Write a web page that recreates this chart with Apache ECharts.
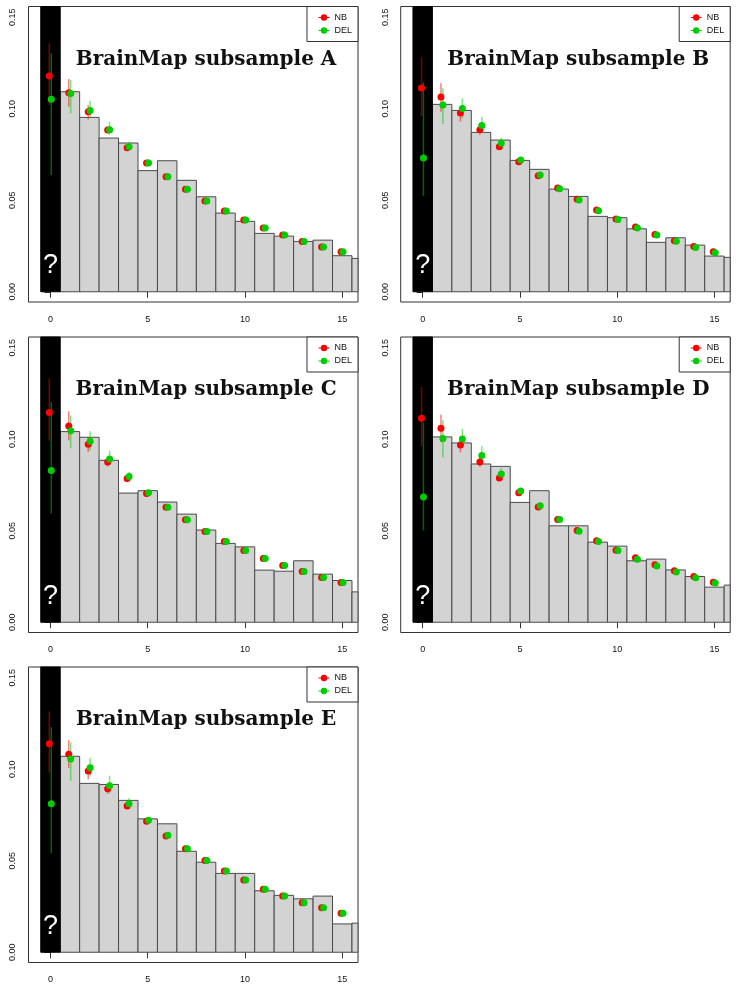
<!DOCTYPE html>
<html><head><meta charset="utf-8">
<script src="https://cdn.jsdelivr.net/npm/echarts@6/dist/echarts.min.js"></script>
<style>html,body{margin:0;padding:0;background:#fff}#c{width:736px;height:990px}</style>
</head><body><div id="c"></div>
<script>
// ---------- data ----------
const panelNames = ['A', 'B', 'C', 'D', 'E'];
const counts = [0, 1, 2, 3, 4, 5, 6, 7, 8, 9, 10, 11, 12, 13, 14, 15];
const binX = [1, 2, 3, 4, 5, 6, 7, 8, 9, 10, 11, 12, 13, 14, 15, 16];
const unknownBin = [0];
const xTicks = [0, 5, 10, 15];
const yTicks = [0, 0.05, 0.10, 0.15];

const barsA = [0.1093,0.0953,0.0840,0.0813,0.0662,0.0716,0.0609,0.0519,0.0430,0.0385,0.0319,0.0304,0.0275,0.0282,0.0197,0.0182];
const nbA   = [0.1179,0.1088,0.0984,0.0884,0.0787,0.0703,0.0629,0.0560,0.0496,0.0441,0.0392,0.0348,0.0310,0.0275,0.0244,0.0219];
const nbLoA = [0.1021,0.1011,0.0942,0.0866,0.0775,0.0693,0.0620,0.0553,0.0490,0.0436,0.0388,0.0345,0.0307,0.0272,0.0242,0.0217];
const nbHiA = [0.1358,0.1163,0.1020,0.0902,0.0800,0.0713,0.0638,0.0567,0.0502,0.0446,0.0396,0.0351,0.0313,0.0278,0.0246,0.0221];
const delA   = [0.1052,0.1084,0.0990,0.0886,0.0793,0.0703,0.0629,0.0560,0.0496,0.0441,0.0392,0.0348,0.0310,0.0275,0.0244,0.0219];
const delLoA = [0.0638,0.0975,0.0957,0.0857,0.0775,0.0687,0.0618,0.0552,0.0490,0.0436,0.0388,0.0345,0.0307,0.0272,0.0242,0.0217];
const delHiA = [0.1303,0.1157,0.1044,0.0930,0.0820,0.0724,0.0640,0.0568,0.0502,0.0446,0.0396,0.0351,0.0313,0.0278,0.0246,0.0221];

const barsB = [0.1024,0.0991,0.0871,0.0829,0.0718,0.0669,0.0561,0.0521,0.0412,0.0405,0.0344,0.0270,0.0295,0.0255,0.0195,0.0188];
const nbB   = [0.1114,0.1064,0.0977,0.0886,0.0793,0.0711,0.0634,0.0567,0.0505,0.0447,0.0397,0.0354,0.0313,0.0279,0.0248,0.0219];
const nbLoB = [0.0960,0.0984,0.0929,0.0858,0.0778,0.0700,0.0625,0.0560,0.0499,0.0442,0.0393,0.0351,0.0310,0.0276,0.0246,0.0217];
const nbHiB = [0.1281,0.1139,0.1002,0.0910,0.0808,0.0722,0.0643,0.0574,0.0511,0.0452,0.0401,0.0357,0.0316,0.0282,0.0250,0.0221];
const delB   = [0.0731,0.1021,0.1001,0.0909,0.0811,0.0720,0.0638,0.0563,0.0501,0.0443,0.0395,0.0348,0.0310,0.0276,0.0242,0.0213];
const delLoB = [0.0525,0.0917,0.0948,0.0875,0.0787,0.0705,0.0627,0.0555,0.0495,0.0438,0.0391,0.0345,0.0307,0.0273,0.0240,0.0211];
const delHiB = [0.1145,0.1112,0.1057,0.0957,0.0842,0.0737,0.0650,0.0572,0.0508,0.0448,0.0399,0.0351,0.0313,0.0279,0.0244,0.0215];

const barsC = [0.1042,0.1011,0.0885,0.0706,0.0719,0.0657,0.0591,0.0504,0.0431,0.0412,0.0285,0.0279,0.0336,0.0263,0.0228,0.0166];
const nbC   = [0.1146,0.1073,0.0973,0.0876,0.0786,0.0703,0.0628,0.0560,0.0496,0.0442,0.0392,0.0349,0.0310,0.0277,0.0245,0.0217];
const nbLoC = [0.0993,0.0993,0.0931,0.0850,0.0772,0.0693,0.0620,0.0553,0.0490,0.0437,0.0388,0.0346,0.0307,0.0274,0.0243,0.0215];
const nbHiC = [0.1332,0.1153,0.1013,0.0900,0.0800,0.0713,0.0636,0.0567,0.0502,0.0447,0.0396,0.0352,0.0313,0.0280,0.0247,0.0219];
const delC   = [0.0830,0.1046,0.0989,0.0892,0.0796,0.0708,0.0628,0.0560,0.0496,0.0442,0.0392,0.0349,0.0310,0.0277,0.0245,0.0217];
const delLoC = [0.0595,0.0951,0.0940,0.0860,0.0778,0.0695,0.0618,0.0553,0.0490,0.0437,0.0388,0.0346,0.0307,0.0274,0.0243,0.0215];
const delHiC = [0.1204,0.1130,0.1044,0.0938,0.0820,0.0722,0.0638,0.0567,0.0502,0.0447,0.0396,0.0352,0.0313,0.0280,0.0247,0.0219];

const barsD = [0.1013,0.0980,0.0865,0.0852,0.0655,0.0719,0.0527,0.0527,0.0438,0.0416,0.0336,0.0345,0.0286,0.0250,0.0192,0.0203];
const nbD   = [0.1115,0.1060,0.0969,0.0876,0.0788,0.0708,0.0630,0.0562,0.0502,0.0445,0.0394,0.0352,0.0314,0.0281,0.0250,0.0219];
const nbLoD = [0.0962,0.0984,0.0929,0.0850,0.0773,0.0697,0.0622,0.0555,0.0496,0.0440,0.0390,0.0349,0.0311,0.0278,0.0248,0.0217];
const nbHiD = [0.1286,0.1135,0.0998,0.0900,0.0802,0.0718,0.0638,0.0569,0.0508,0.0450,0.0398,0.0355,0.0317,0.0284,0.0252,0.0221];
const delD   = [0.0684,0.1004,0.1002,0.0911,0.0810,0.0717,0.0637,0.0562,0.0498,0.0442,0.0392,0.0345,0.0307,0.0274,0.0243,0.0215];
const delLoD = [0.0502,0.0901,0.0953,0.0874,0.0785,0.0703,0.0627,0.0555,0.0492,0.0437,0.0388,0.0342,0.0304,0.0271,0.0241,0.0213];
const delHiD = [0.1093,0.1104,0.1057,0.0962,0.0843,0.0733,0.0648,0.0570,0.0504,0.0447,0.0396,0.0348,0.0310,0.0277,0.0245,0.0217];

const barsE = [0.1071,0.0923,0.0917,0.0830,0.0729,0.0702,0.0552,0.0492,0.0431,0.0431,0.0336,0.0311,0.0292,0.0307,0.0155,0.0159];
const nbE   = [0.1140,0.1082,0.0990,0.0893,0.0800,0.0716,0.0636,0.0566,0.0502,0.0444,0.0395,0.0345,0.0307,0.0270,0.0243,0.0213];
const nbLoE = [0.0983,0.1007,0.0946,0.0866,0.0785,0.0705,0.0628,0.0559,0.0496,0.0439,0.0391,0.0342,0.0304,0.0267,0.0241,0.0211];
const nbHiE = [0.1317,0.1160,0.1023,0.0915,0.0815,0.0727,0.0644,0.0573,0.0508,0.0449,0.0399,0.0348,0.0310,0.0273,0.0245,0.0215];
const delE   = [0.0811,0.1056,0.1009,0.0910,0.0811,0.0722,0.0640,0.0566,0.0502,0.0444,0.0395,0.0345,0.0307,0.0270,0.0243,0.0213];
const delLoE = [0.0541,0.0937,0.0961,0.0870,0.0785,0.0708,0.0630,0.0559,0.0496,0.0439,0.0391,0.0342,0.0304,0.0267,0.0241,0.0211];
const delHiE = [0.1230,0.1147,0.1063,0.0965,0.0842,0.0738,0.0650,0.0573,0.0508,0.0449,0.0399,0.0348,0.0310,0.0273,0.0245,0.0215];

// ---------- layout / style ----------
const X_MIN = -1.13, X_MAX = 15.81, Y_MIN = -0.0056, Y_MAX = 0.1559;
const colLeft = [28.5, 400.7], rowTop = [6.5, 337, 667], gridW = 329.5, gridH = 295.5;
const panelPos = [[0, 0], [1, 0], [0, 1], [1, 1], [0, 2]];
const nbOffset = -0.06, delOffset = 0.04;
const titleAnchor = [8, 0.127];
const RED = '#ff0000', GREEN = '#00cd00';
const RED_ERR = 'rgba(255,0,0,0.5)', GREEN_ERR = 'rgba(0,205,0,0.5)';
const AX = '#333333';
const SANS = '"Liberation Sans", Arial, sans-serif';

const panels = [
  {bars: barsA, nb: nbA, nbLo: nbLoA, nbHi: nbHiA, del: delA, delLo: delLoA, delHi: delHiA},
  {bars: barsB, nb: nbB, nbLo: nbLoB, nbHi: nbHiB, del: delB, delLo: delLoB, delHi: delHiB},
  {bars: barsC, nb: nbC, nbLo: nbLoC, nbHi: nbHiC, del: delC, delLo: delLoC, delHi: delHiC},
  {bars: barsD, nb: nbD, nbLo: nbLoD, nbHi: nbHiD, del: delD, delLo: delLoD, delHi: delHiD},
  {bars: barsE, nb: nbE, nbLo: nbLoE, nbHi: nbHiE, del: delE, delLo: delLoE, delHi: delHiE}
];

function csRect(params) {
  const cs = params.coordSys;
  return {x: cs.x, y: cs.y, width: cs.width, height: cs.height};
}
function barRender(params, api) {
  const x = api.value(0), v = api.value(1);
  const p0 = api.coord([x - 0.5, v]);
  const p1 = api.coord([x + 0.5, 0]);
  const r = echarts.graphic.clipRectByRect(
    {x: p0[0], y: p0[1], width: p1[0] - p0[0], height: p1[1] - p0[1]}, csRect(params));
  if (!r) return null;
  return {type: 'rect', shape: r, style: {fill: '#d3d3d3', stroke: '#4a4a4a', lineWidth: 1}};
}
function unknownRender(params, api) {
  const x = api.value(0);
  const p0 = api.coord([x - 0.5, 0]);
  const p1 = api.coord([x + 0.5, 0]);
  const top = params.coordSys.y;
  return {
    type: 'group',
    children: [
      {type: 'rect', shape: {x: p0[0], y: top, width: p1[0] - p0[0], height: p0[1] - top},
       style: {fill: '#000', stroke: '#000', lineWidth: 1}},
      {type: 'text', style: {text: '?', x: (p0[0] + p1[0]) / 2, y: p0[1] - 26, fill: '#fff',
        font: '27px ' + SANS, align: 'center', verticalAlign: 'middle'}}
    ]
  };
}
function errRender(color) {
  return function (params, api) {
    const x = api.value(0);
    const a = api.coord([x, api.value(1)]), b = api.coord([x, api.value(2)]);
    return {type: 'line', shape: {x1: a[0], y1: a[1], x2: b[0], y2: b[1]},
      style: {stroke: color, lineWidth: 1.5}};
  };
}

const legendIcon = 'path://M0,3.1H11V3.9H0Z M5.5,0.3A3.2,3.2 0 1 1 5.49,0.3Z';

const option = {
  animation: false,
  backgroundColor: '#fff',
  grid: [], xAxis: [], yAxis: [], series: [], legend: []
};

panels.forEach((p, i) => {
  const [c, r] = panelPos[i];
  const left = colLeft[c], top = rowTop[r];
  option.grid.push({left: left, top: top, width: gridW, height: gridH, show: true,
    borderColor: AX, borderWidth: 1, backgroundColor: 'transparent'});
  option.xAxis.push({type: 'value', gridIndex: i, min: X_MIN, max: X_MAX,
    axisLine: {show: false}, splitLine: {show: false},
    axisTick: {show: true, customValues: xTicks, length: 6, lineStyle: {color: AX}},
    axisLabel: {customValues: xTicks, fontSize: 9, fontFamily: SANS, color: '#111', margin: 13}});
  option.yAxis.push({type: 'value', gridIndex: i, min: Y_MIN, max: Y_MAX,
    axisLine: {show: false}, splitLine: {show: false},
    axisTick: {show: true, customValues: yTicks, length: 6, lineStyle: {color: AX}},
    axisLabel: {customValues: yTicks, fontSize: 9, fontFamily: SANS, color: '#111', margin: 11,
      rotate: 90, formatter: v => v.toFixed(2)}});

  option.series.push({type: 'custom', name: 'hist', xAxisIndex: i, yAxisIndex: i,
    renderItem: barRender, data: binX.map((x, k) => [x, p.bars[k]]), encode: {x: 0, y: 1}, silent: true});
  option.series.push({type: 'custom', name: 'unknown', xAxisIndex: i, yAxisIndex: i,
    renderItem: unknownRender, data: unknownBin.map(x => [x]), encode: {x: 0}, silent: true});
  option.series.push({type: 'custom', name: 'NB interval', xAxisIndex: i, yAxisIndex: i,
    renderItem: errRender(RED_ERR), data: counts.map((x, k) => [x + nbOffset, p.nbLo[k], p.nbHi[k]]),
    encode: {x: 0, y: [1, 2]}, silent: true});
  option.series.push({type: 'scatter', name: 'NB', xAxisIndex: i, yAxisIndex: i,
    symbolSize: 7, itemStyle: {color: RED, opacity: 1},
    data: counts.map((x, k) => [x + nbOffset, p.nb[k]])});
  option.series.push({type: 'custom', name: 'DEL interval', xAxisIndex: i, yAxisIndex: i,
    renderItem: errRender(GREEN_ERR), data: counts.map((x, k) => [x + delOffset, p.delLo[k], p.delHi[k]]),
    encode: {x: 0, y: [1, 2]}, silent: true});
  option.series.push({type: 'scatter', name: 'DEL', xAxisIndex: i, yAxisIndex: i,
    symbolSize: 7, itemStyle: {color: GREEN, opacity: 1},
    data: counts.map((x, k) => [x + delOffset, p.del[k]])});

  option.legend.push({
    data: [{name: 'NB', icon: legendIcon}, {name: 'DEL', icon: legendIcon}],
    orient: 'vertical', selectedMode: false,
    right: 736 - (left + gridW), top: top,
    itemWidth: 11, itemHeight: 6.4, itemGap: 1,
    padding: [5, 6, 5, 11.5],
    borderColor: AX, borderWidth: 1, backgroundColor: '#fff',
    textStyle: {fontSize: 9, fontFamily: SANS, color: '#111', lineHeight: 12}
  });
});

const chart = echarts.init(document.getElementById('c'), null, {renderer: 'canvas'});
chart.setOption(option);

// Panel titles, anchored in data coordinates of each panel
const graphics = panels.map((p, i) => {
  const pt = chart.convertToPixel({gridIndex: i}, titleAnchor);
  return {type: 'text', x: pt[0], y: pt[1], z: 100,
    style: {text: 'BrainMap subsample ' + panelNames[i], fill: '#111',
      font: 'bold 20px "DejaVu Serif", serif', align: 'center', verticalAlign: 'middle'}};
});
chart.setOption({graphic: graphics});
</script>
</body></html>
